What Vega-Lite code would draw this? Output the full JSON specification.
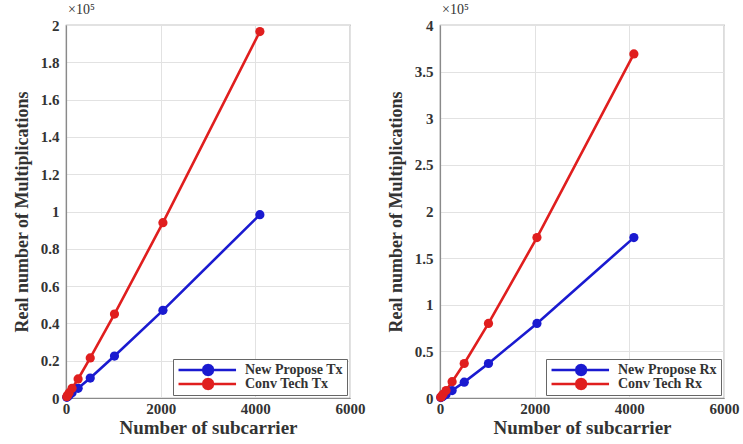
{
  "$schema": "https://vega.github.io/schema/vega-lite/v6.json",
  "background": "white",
  "padding": {"left": 12, "top": 2, "right": 5, "bottom": 0},
  "spacing": 20,
  "config": {
    "font": "Liberation Serif",
    "view": {"stroke": "#8a8a8a", "strokeWidth": 1.2},
    "axis": {
      "labelFont": "Liberation Serif", "labelFontWeight": "bold", "labelFontSize": 15, "labelColor": "#333",
      "titleFont": "Liberation Serif", "titleFontWeight": "bold", "titleFontSize": 18, "titleColor": "#333",
      "gridColor": "#e2e2e2", "gridWidth": 1, "domainColor": "#8a8a8a", "domainWidth": 1.2,
      "ticks": false
    },
    "legend": {
      "labelFont": "Liberation Serif", "labelFontWeight": "bold", "labelFontSize": 14, "labelColor": "#333",
      "strokeColor": "#666", "fillColor": "white", "padding": 4, "rowPadding": 0, "clipHeight": 14, "title": null
    },
    "title": {"font": "Liberation Serif", "fontSize": 14, "fontWeight": "normal", "color": "#333", "anchor": "start", "frame": "group", "offset": 1}
  },
  "datasets": {
    "tx": [
      {"n": 16, "mult": 350, "series": "New Propose Tx"},
      {"n": 32, "mult": 700, "series": "New Propose Tx"},
      {"n": 64, "mult": 1400, "series": "New Propose Tx"},
      {"n": 128, "mult": 2800, "series": "New Propose Tx"},
      {"n": 256, "mult": 5200, "series": "New Propose Tx"},
      {"n": 512, "mult": 10700, "series": "New Propose Tx"},
      {"n": 1024, "mult": 22500, "series": "New Propose Tx"},
      {"n": 2048, "mult": 47000, "series": "New Propose Tx"},
      {"n": 4096, "mult": 98300, "series": "New Propose Tx"},
      {"n": 16, "mult": 700, "series": "Conv Tech Tx"},
      {"n": 32, "mult": 1400, "series": "Conv Tech Tx"},
      {"n": 64, "mult": 2700, "series": "Conv Tech Tx"},
      {"n": 128, "mult": 5200, "series": "Conv Tech Tx"},
      {"n": 256, "mult": 10200, "series": "Conv Tech Tx"},
      {"n": 512, "mult": 21500, "series": "Conv Tech Tx"},
      {"n": 1024, "mult": 45000, "series": "Conv Tech Tx"},
      {"n": 2048, "mult": 94000, "series": "Conv Tech Tx"},
      {"n": 4096, "mult": 196500, "series": "Conv Tech Tx"}
    ],
    "rx": [
      {"n": 16, "mult": 500, "series": "New Propose Rx"},
      {"n": 32, "mult": 1000, "series": "New Propose Rx"},
      {"n": 64, "mult": 2000, "series": "New Propose Rx"},
      {"n": 128, "mult": 3800, "series": "New Propose Rx"},
      {"n": 256, "mult": 8000, "series": "New Propose Rx"},
      {"n": 512, "mult": 17000, "series": "New Propose Rx"},
      {"n": 1024, "mult": 37000, "series": "New Propose Rx"},
      {"n": 2048, "mult": 80000, "series": "New Propose Rx"},
      {"n": 4096, "mult": 172000, "series": "New Propose Rx"},
      {"n": 16, "mult": 900, "series": "Conv Tech Rx"},
      {"n": 32, "mult": 1900, "series": "Conv Tech Rx"},
      {"n": 64, "mult": 4000, "series": "Conv Tech Rx"},
      {"n": 128, "mult": 8000, "series": "Conv Tech Rx"},
      {"n": 256, "mult": 17500, "series": "Conv Tech Rx"},
      {"n": 512, "mult": 37000, "series": "Conv Tech Rx"},
      {"n": 1024, "mult": 80000, "series": "Conv Tech Rx"},
      {"n": 2048, "mult": 172000, "series": "Conv Tech Rx"},
      {"n": 4096, "mult": 369000, "series": "Conv Tech Rx"}
    ]
  },
  "hconcat": [
    {
      "width": 284,
      "height": 373,
      "title": {"text": "×10⁵", "dx": 2},
      "data": {"name": "tx"},
      "mark": {"type": "line", "strokeWidth": 2.6, "point": {"filled": true, "size": 85}},
      "encoding": {
        "x": {"field": "n", "type": "quantitative", "title": "Number of subcarrier",
              "scale": {"domain": [0, 6000], "nice": false},
              "axis": {"values": [0, 2000, 4000, 6000], "format": "d", "labelFlush": false, "labelPadding": 3, "titlePadding": 2, "titleFontSize": 19, "labelFontWeight": "bold"}},
        "y": {"field": "mult", "type": "quantitative", "title": "Real number of Multiplications",
              "scale": {"domain": [0, 200000], "nice": false},
              "axis": {"values": [0, 20000, 40000, 60000, 80000, 100000, 120000, 140000, 160000, 180000, 200000],
                       "labelExpr": "format(datum.value / 100000, '.6~g')", "labelFlush": false, "labelPadding": 7, "titlePadding": 9, "labelFontWeight": "bold"}},
        "color": {"field": "series", "type": "nominal",
                  "scale": {"domain": ["New Propose Tx", "Conv Tech Tx"], "range": ["#1a1ad0", "#e01e1e"]},
                  "legend": {"orient": "bottom-right", "offset": 3, "symbolType": "M-1,0H9.5M5.3,0L5.179,0.45L4.85,0.779L4.4,0.9L3.95,0.779L3.621,0.45L3.5,0L3.621,-0.45L3.95,-0.779L4.4,-0.9L4.85,-0.779L5.179,-0.45Z", "symbolSize": 120, "symbolStrokeWidth": 2.6, "labelOffset": 54}}
      }
    },
    {
      "width": 284,
      "height": 373,
      "title": {"text": "×10⁵", "dx": 2},
      "data": {"name": "rx"},
      "mark": {"type": "line", "strokeWidth": 2.6, "point": {"filled": true, "size": 85}},
      "encoding": {
        "x": {"field": "n", "type": "quantitative", "title": "Number of subcarrier",
              "scale": {"domain": [0, 6000], "nice": false},
              "axis": {"values": [0, 2000, 4000, 6000], "format": "d", "labelFlush": false, "labelPadding": 3, "titlePadding": 2, "titleFontSize": 19, "labelFontWeight": "bold"}},
        "y": {"field": "mult", "type": "quantitative", "title": "Real number of Multiplications",
              "scale": {"domain": [0, 400000], "nice": false},
              "axis": {"values": [0, 50000, 100000, 150000, 200000, 250000, 300000, 350000, 400000],
                       "labelExpr": "format(datum.value / 100000, '.6~g')", "labelFlush": false, "labelPadding": 7, "titlePadding": 9, "labelFontWeight": "bold"}},
        "color": {"field": "series", "type": "nominal",
                  "scale": {"domain": ["New Propose Rx", "Conv Tech Rx"], "range": ["#1a1ad0", "#e01e1e"]},
                  "legend": {"orient": "bottom-right", "offset": 3, "symbolType": "M-1,0H9.5M5.3,0L5.179,0.45L4.85,0.779L4.4,0.9L3.95,0.779L3.621,0.45L3.5,0L3.621,-0.45L3.95,-0.779L4.4,-0.9L4.85,-0.779L5.179,-0.45Z", "symbolSize": 120, "symbolStrokeWidth": 2.6, "labelOffset": 54}}
      }
    }
  ],
  "resolve": {"scale": {"color": "independent", "y": "independent"}, "legend": {"color": "independent"}}
}
